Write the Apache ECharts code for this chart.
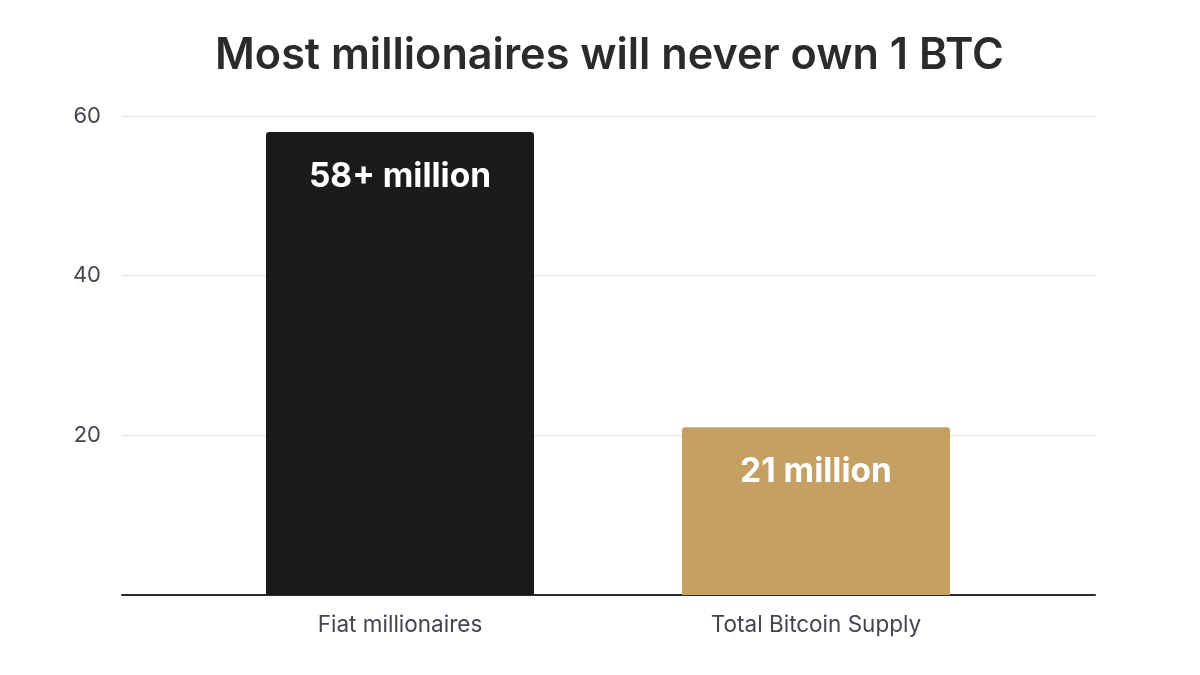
<!DOCTYPE html>
<html>
<head>
<meta charset="utf-8">
<script src="https://cdn.jsdelivr.net/npm/echarts@6/dist/echarts.min.js"></script>
<style>
html,body{margin:0;padding:0;background:#fff;}
#chart{width:1200px;height:675px;}
</style>
</head>
<body>
<div id="chart"></div>
<script>
const titleText = 'Most millionaires will never own 1 BTC';
const categories = ['Fiat millionaires', 'Total Bitcoin Supply'];
const values = [58, 21];
const barLabels = ['58+ million', '21 million'];
const barColors = ['#1c1a1b', '#c4a062'];
const yTicks = { min: 0, max: 60, interval: 20 };

const chart = echarts.init(document.getElementById('chart'));
const font = 'Inter, "Noto Sans", sans-serif';
chart.setOption({
  backgroundColor: '#ffffff',
  animation: false,
  title: {
    text: titleText,
    left: 210,
    top: 30,
    textStyle: { fontFamily: font, fontSize: 43.2, fontWeight: 600, color: '#2b2b2b' }
  },
  grid: [
    { left: 122, right: 105, top: 116, bottom: 80 },
    { left: 192, right: 176, top: 116, bottom: 80 }
  ],
  xAxis: [
    {
      gridIndex: 0, type: 'category', data: categories.map(() => ''),
      axisLine: { lineStyle: { color: '#2a2a2a', width: 2 } },
      axisTick: { show: false }, axisLabel: { show: false }
    },
    {
      gridIndex: 1, type: 'category', data: categories,
      axisLine: { show: false }, axisTick: { show: false },
      axisLabel: { fontFamily: font, fontSize: 22.5, color: '#44444e', margin: 19 }
    }
  ],
  yAxis: [
    {
      gridIndex: 0, type: 'value', min: yTicks.min, max: yTicks.max, interval: yTicks.interval,
      axisLine: { show: false }, axisTick: { show: false },
      axisLabel: { fontFamily: font, fontSize: 22, color: '#44444e', margin: 21, showMinLabel: false,
        padding: [3, 0, 0, 0],
        formatter: v => v === 0 ? '' : String(v) },
      splitLine: { lineStyle: { color: '#e2e2e2', width: 1 } }
    },
    {
      gridIndex: 1, type: 'value', min: yTicks.min, max: yTicks.max, interval: yTicks.interval,
      show: false, splitLine: { show: false }
    }
  ],
  series: [{
    type: 'bar',
    xAxisIndex: 1, yAxisIndex: 1,
    barWidth: 268,
    data: values.map((v, i) => ({
      value: v,
      itemStyle: { color: barColors[i], borderRadius: [3, 3, 0, 0] },
      label: { formatter: barLabels[i] }
    })),
    label: {
      show: true, position: 'insideTop', distance: 28,
      fontFamily: font, fontSize: 33.5, fontWeight: 700, color: '#ffffff'
    }
  }]
});
</script>
</body>
</html>
